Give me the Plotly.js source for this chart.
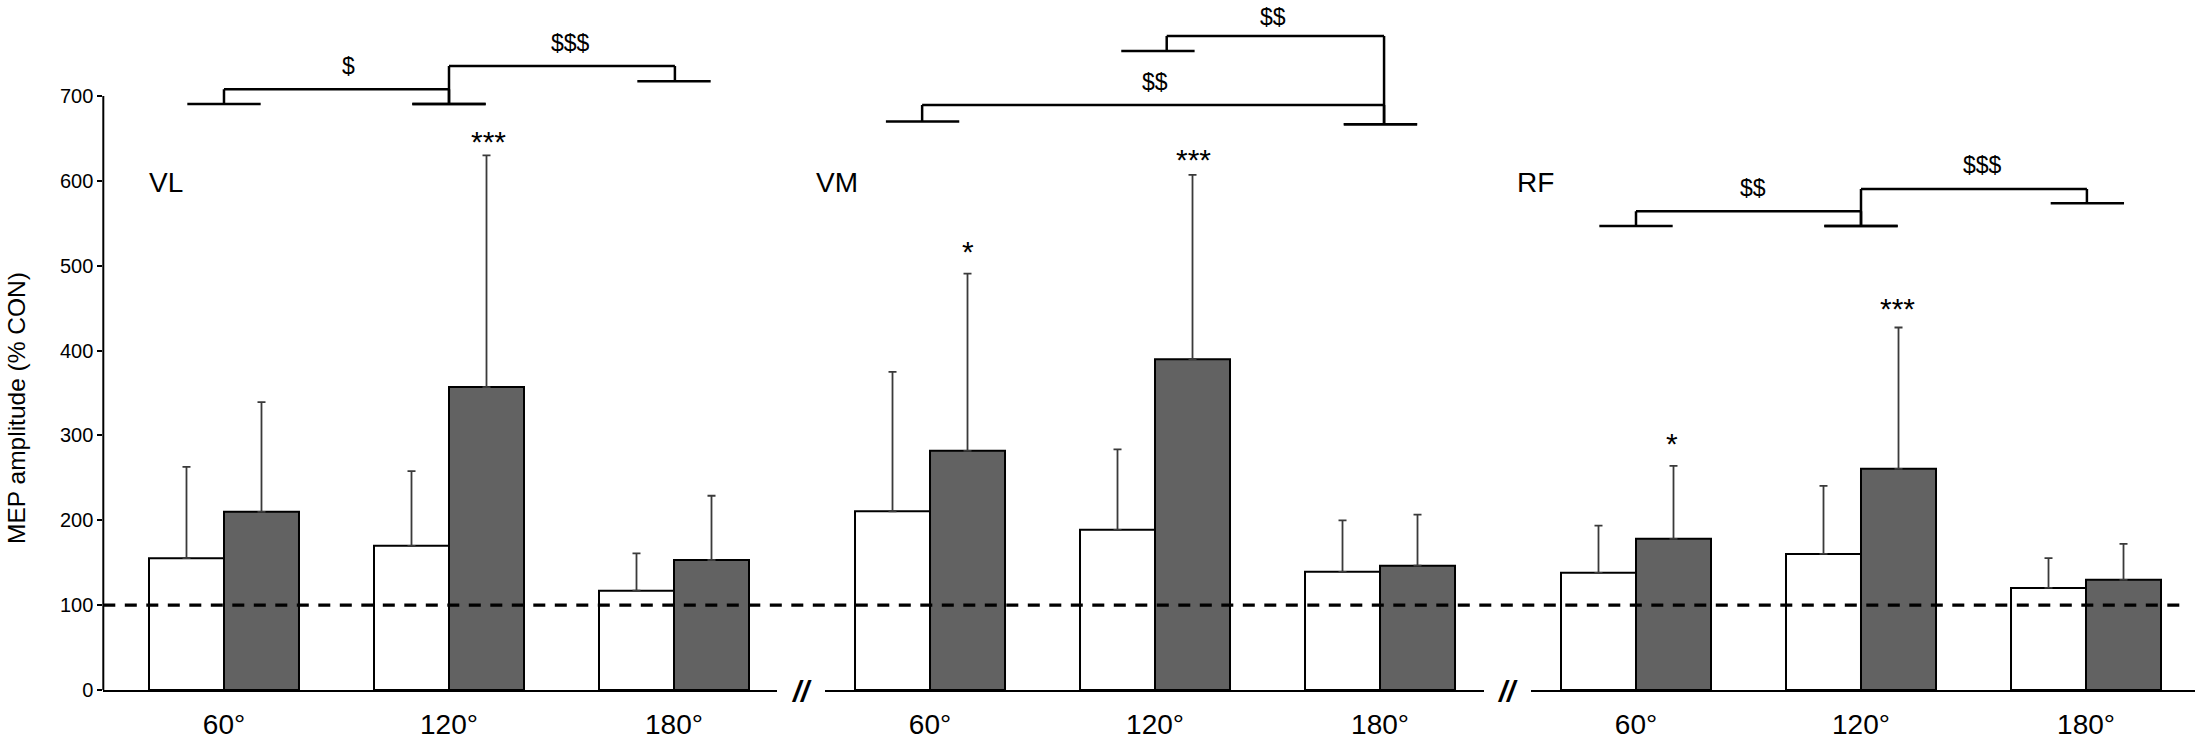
<!DOCTYPE html>
<html>
<head>
<meta charset="utf-8">
<script src="https://cdn.plot.ly/plotly-3.0.1.min.js"></script>
<style>html,body{margin:0;padding:0;background:#fff;}#chart{width:2202px;height:741px;}</style>
</head>
<body>
<div id="chart"></div>
<script>
// ---- data ----
const categories = ['60°', '120°', '180°'];
const muscles = ['VL', 'VM', 'RF'];
const yTicks = [0, 100, 200, 300, 400, 500, 600, 700];
const referenceLevel = 100;

const vlWhite   = [155.4, 169.9, 117.0];
const vlWhiteSD = [107.5,  88.0,  43.9];
const vlGray    = [210.0, 357.0, 153.2];
const vlGraySD  = [129.2, 272.9,  75.7];

const vmWhite   = [210.5, 188.8, 139.2];
const vmWhiteSD = [164.3,  94.7,  60.7];
const vmGray    = [281.8, 389.8, 146.5];
const vmGraySD  = [208.8, 217.2,  60.1];

const rfWhite   = [138.1, 160.4, 120.3];
const rfWhiteSD = [ 55.7,  80.2,  35.1];
const rfGray    = [178.2, 260.6, 129.8];
const rfGraySD  = [ 85.8, 166.6,  42.3];

// significance stars: [panel, x (category index), y, text]
const stars = [
  [0, 1.175, 652.9, '***'],
  [1, 0.167, 523.6, '*'],
  [1, 1.173, 632.1, '***'],
  [2, 0.158, 298.0, '*'],
  [2, 1.162, 456.7, '***']
];
// brackets: [panel, xLeft, xRight, footLeftY, footRightY, topY, footLeftX, footRightX]
const brackets = [
  [0, 0, 1, 690.6, 690.6, 707.9, 0, 1],
  [0, 1, 2.004, 690.6, 717.4, 735.3, 1, 2.0],
  [1, -0.035, 2.018, 670.0, 666.6, 689.4, -0.033, 2.002],
  [1, 1.052, 2.018, 753.0, 666.6, 770.7, 1.013, 2.002],
  [2, 0, 1, 546.9, 546.9, 564.2, 0, 1],
  [2, 1, 2.004, 546.9, 573.6, 590.4, 1, 2.006]
];
// bracket labels: [panel, x, y, text]
const bracketLabels = [
  [0, 0.553, 735.3, '$'],
  [0, 1.54, 761.9, '$$$'],
  [1, 1.0, 716.9, '$$'],
  [1, 1.526, 793.5, '$$'],
  [2, 0.52, 591.6, '$$'],
  [2, 1.54, 618.2, '$$$']
];

// ---- build ----
const W = 2202;
const xIds = ['x', 'x2', 'x3'];
const panelDomains = [[103.3 / W, 777.3 / W], [825 / W, 1484 / W], [1530.7 / W, 2195 / W]];
const panelRanges = [[-0.5364, 2.4591], [-0.4667, 2.4622], [-0.468, 2.4844]];
const whiteSets = [[vlWhite, vlWhiteSD], [vmWhite, vmWhiteSD], [rfWhite, rfWhiteSD]];
const graySets = [[vlGray, vlGraySD], [vmGray, vmGraySD], [rfGray, rfGraySD]];
const catIdx = categories.map((c, i) => i);

const traces = [];
for (let p = 0; p < 3; p++) {
  [[whiteSets[p], '#ffffff', 'white'], [graySets[p], '#626262', 'gray']].forEach(([set, col, nm]) => {
    traces.push({
      type: 'bar', x: catIdx, y: set[0], name: muscles[p] + ' ' + nm,
      xaxis: xIds[p], yaxis: 'y',
      marker: {color: col, line: {color: '#000', width: 2}},
      error_y: {type: 'data', symmetric: false, array: set[1], arrayminus: set[1].map(() => 0),
                color: '#3a3a3a', thickness: 1.8, width: 4},
      hoverinfo: 'skip'
    });
  });
}

const shapes = [];
// y axis line 0..700
shapes.push({type: 'line', xref: 'paper', yref: 'y', x0: panelDomains[0][0], x1: panelDomains[0][0],
             y0: 0, y1: yTicks[yTicks.length - 1], line: {color: '#000', width: 2}});
// dashed reference line
shapes.push({type: 'line', xref: 'paper', yref: 'y', x0: panelDomains[0][0], x1: 2185 / W,
             y0: referenceLevel, y1: referenceLevel, line: {color: '#000', width: 3.2, dash: '12px,9.5px'}});
const hw = 0.163;
brackets.forEach(b => {
  const xr = xIds[b[0]];
  const seg = (x0, y0, x1, y1) => shapes.push({type: 'line', xref: xr, yref: 'y', x0, y0, x1, y1,
                                              line: {color: '#000', width: 2.5}});
  seg(b[6] - hw, b[3], b[6] + hw, b[3]);
  seg(b[1], b[3], b[1], b[5]);
  seg(b[1], b[5], b[2], b[5]);
  seg(b[2], b[5], b[2], b[4]);
  seg(b[7] - hw, b[4], b[7] + hw, b[4]);
});

const annotations = [];
stars.forEach(s => annotations.push({xref: xIds[s[0]], yref: 'y', x: s[1], y: s[2], text: s[3],
  showarrow: false, xanchor: 'center', yanchor: 'middle', yshift: -6, font: {size: 30, color: '#000'}}));
bracketLabels.forEach(s => annotations.push({xref: xIds[s[0]], yref: 'y', x: s[1], y: s[2], text: s[3],
  showarrow: false, xanchor: 'center', yanchor: 'middle', font: {size: 23, color: '#000'}}));
const letterX = [146.7 / W, 813.6 / W, 1514.7 / W];
muscles.forEach((m, i) => annotations.push({xref: 'paper', yref: 'y', x: letterX[i], y: 598.6, text: m,
  showarrow: false, xanchor: 'left', yanchor: 'middle', font: {size: 28, color: '#000'}}));
// axis break marks
[801 / W, 1507.5 / W].forEach(x => annotations.push({xref: 'paper', yref: 'paper', x: x, y: 0, yshift: -2,
  text: '<b><i>//</i></b>', showarrow: false, xanchor: 'center', yanchor: 'middle', font: {size: 29, color: '#000'}}));
// y axis title
annotations.push({xref: 'paper', yref: 'paper', x: 16.4 / W, y: (690 - 407.5) / 690, text: 'MEP amplitude (% CON)',
  textangle: -90, showarrow: false, xanchor: 'center', yanchor: 'middle', font: {size: 24.5, color: '#000'}});

const layout = {
  width: 2202, height: 741,
  margin: {l: 0, r: 0, t: 0, b: 51, pad: 0},
  paper_bgcolor: '#fff', plot_bgcolor: '#fff',
  showlegend: false, barmode: 'group', bargap: 1 / 3, bargroupgap: 0,
  font: {family: '"Liberation Sans", Arial, sans-serif', color: '#000'},
  yaxis: {range: [0, 813.1], tickvals: yTicks, ticks: 'outside', ticklen: 5, tickwidth: 2, tickcolor: '#000',
          showline: false, showgrid: false, zeroline: false, tickfont: {size: 20}, anchor: 'x', fixedrange: true},
  shapes: shapes, annotations: annotations
};
xIds.forEach((id, i) => {
  const key = i === 0 ? 'xaxis' : 'xaxis' + (i + 1);
  layout[key] = {domain: panelDomains[i], range: panelRanges[i], anchor: 'y', tickvals: catIdx, ticktext: categories,
                 showline: true, linecolor: '#000', linewidth: 2, ticks: '', showgrid: false, zeroline: false,
                 ticklabelstandoff: 8, tickfont: {size: 28}, fixedrange: true};
});

Plotly.newPlot('chart', traces, layout, {staticPlot: true, displayModeBar: false});
</script>
</body>
</html>
